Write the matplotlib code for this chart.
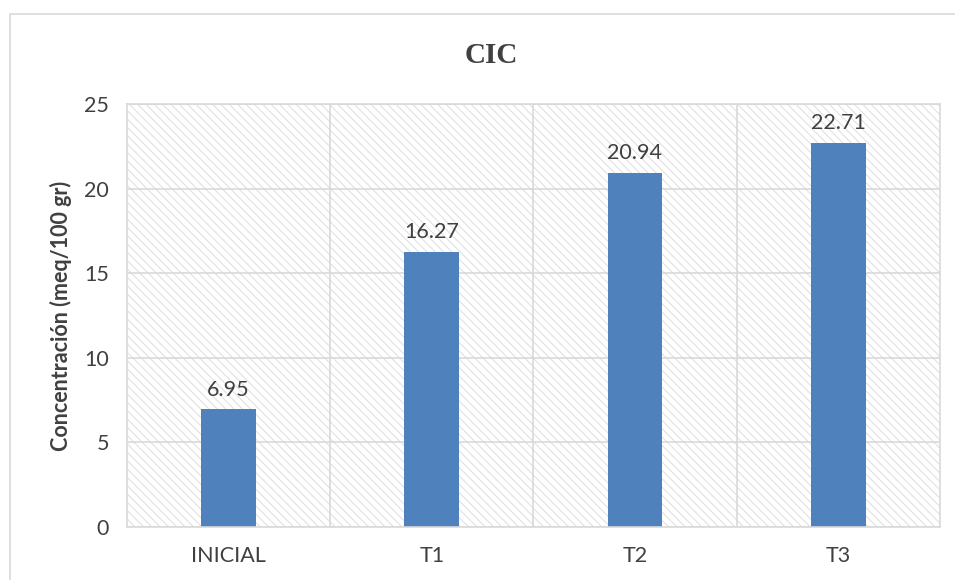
import matplotlib.pyplot as plt
from matplotlib.patches import Rectangle

categorias = ["INICIAL", "T1", "T2", "T3"]
cic = [6.95, 16.27, 20.94, 22.71]
y_ticks = [0, 5, 10, 15, 20, 25]

plt.rcParams['font.family'] = ['Lato', 'DejaVu Sans']
plt.rcParams['hatch.linewidth'] = 0.7
texto = '#404040'
gris = '#d9d9d9'

fig = plt.figure(figsize=(9.55, 5.8), dpi=100)
ax = fig.add_axes([0.133, 0.0914, 0.851, 0.7293])

# marco exterior del grafico (solo se ven el borde superior e izquierdo)
fig.patches.append(Rectangle((10 / 955, -0.1), 1.2, 1 - 14 / 580 + 0.1,
                             transform=fig.transFigure, fill=False,
                             edgecolor=gris, linewidth=1.2))

# fondo rayado del area de trazado
ax.add_patch(Rectangle((0, 0), 1, 1, transform=ax.transAxes, facecolor='white',
                       edgecolor='#dedede', hatch='\\\\\\\\', linewidth=0, zorder=0))

x = range(len(categorias))
ax.bar(x, cic, width=0.27, color='#4f81bd', zorder=2)
for xi, v in zip(x, cic):
    ax.text(xi, v + 0.55, f"{v:.2f}", ha='center', va='bottom',
            fontsize=15.5, color=texto)

ax.set_xlim(-0.5, len(categorias) - 0.5)
ax.set_ylim(0, 25)
ax.set_yticks(y_ticks)
ax.set_xticks(list(x))
ax.set_xticklabels(categorias)
ax.set_xticks([i + 0.5 for i in range(len(categorias) - 1)], minor=True)
ax.tick_params(axis='both', which='both', length=0, labelsize=15.5, colors=texto)
ax.tick_params(axis='y', pad=13)
ax.tick_params(axis='x', pad=14)

ax.set_axisbelow(True)
ax.grid(axis='y', which='major', color=gris, linewidth=1.2)
ax.grid(axis='x', which='minor', color=gris, linewidth=1.2)
for s in ax.spines.values():
    s.set_color(gris)
    s.set_linewidth(1.2)

ax.set_ylabel("Concentración (meq/100 gr)", fontsize=15.5, fontweight='bold',
              color=texto, labelpad=9)
fig.text(0.514, 0.905, "CIC", ha='center', va='center', fontsize=21,
         fontweight='bold', color=texto, family='Liberation Serif')

fig.savefig("out.png", dpi=100)
